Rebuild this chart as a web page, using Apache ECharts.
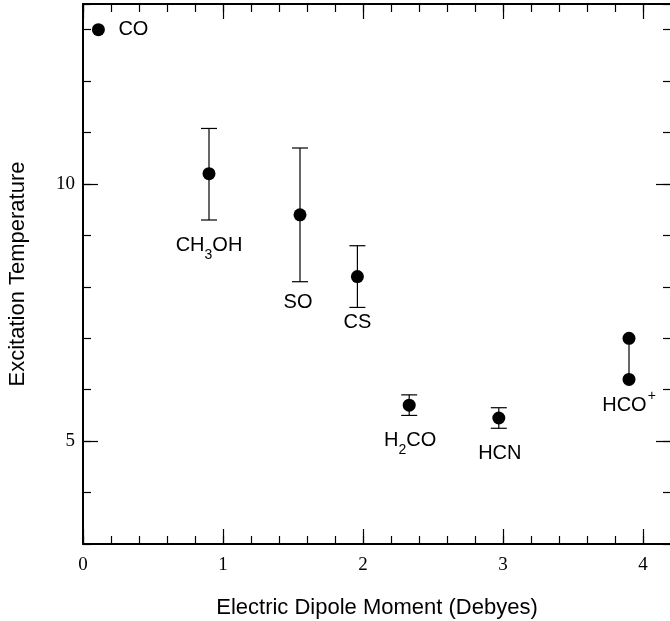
<!DOCTYPE html>
<html>
<head>
<meta charset="utf-8">
<script src="https://cdn.jsdelivr.net/npm/echarts@6/dist/echarts.min.js"></script>
<style>
  html, body { margin: 0; padding: 0; background: #fff; }
  #chart { width: 670px; height: 621px; }
</style>
</head>
<body>
<div id="chart"></div>
<script>
// Excitation temperature versus electric dipole moment for several molecules
const molecules = ['CO', 'CH3OH', 'SO', 'CS', 'H2CO', 'HCN', 'HCO+'];
const dipole    = [0.11, 0.90, 1.55, 1.96, 2.33, 2.97, 3.90];
const tex       = [13.0, 10.2, 9.4, 8.2, 5.7, 5.45, 6.2];
const texLow    = [null, 9.3, 8.1, 7.6, 5.5, 5.25, null];
const texHigh   = [null, 11.08, 10.7, 8.8, 5.9, 5.65, null];
// HCO+ has a second estimate joined to the first by a plain line
const texAlt    = [null, null, null, null, null, null, 7.0];

const xMajorTicks = [0, 1, 2, 3, 4];
const yMajorTicks = [5, 10];

// Rich-text versions of the molecule names
const richNames = {
  'CO': '{n|CO}',
  'CH3OH': '{n|CH}{s|3}{n|OH}',
  'SO': '{n|SO}',
  'CS': '{n|CS}',
  'H2CO': '{n|H}{s|2}{n|CO}',
  'HCN': '{n|HCN}',
  'HCO+': '{m|HCO}{p|+}'
};
// Label offsets from the marker centre (px)
const labelOffset = {
  'CO': [35, 0],
  'CH3OH': [0, 71.5],
  'SO': [-2, 88],
  'CS': [0, 46],
  'H2CO': [1, 35],
  'HCN': [1, 35],
  'HCO+': [0, 19.5]
};

const sans = '"Liberation Sans", Arial, Helvetica, sans-serif';
const serif = '"Liberation Serif", "Times New Roman", serif';
const X_MIN = 0, X_MAX = 4.2, Y_MIN = 3, Y_MAX = 13.5;
const INK = '#000';

// Every token in a line gets the same box height, so padding alone sets its height
const richStyles = {
  n: { fontFamily: sans, fontSize: 20, color: INK, lineHeight: 20, verticalAlign: 'top' },
  s: { fontFamily: sans, fontSize: 14, color: INK, lineHeight: 14, verticalAlign: 'top', padding: [13, 0, 0, 0] },
  m: { fontFamily: sans, fontSize: 20, color: INK, lineHeight: 20, verticalAlign: 'top', padding: [7, 0, 0, 0] },
  p: { fontFamily: sans, fontSize: 14, color: INK, lineHeight: 14, verticalAlign: 'top', padding: [0, 0, 13, 1] }
};

const pointData = molecules.map((name, i) => ({
  name: name,
  value: [dipole[i], tex[i]],
  label: {
    show: true,
    position: 'inside',
    align: 'center',
    verticalAlign: 'middle',
    offset: labelOffset[name],
    formatter: richNames[name],
    color: INK,
    rich: richStyles
  }
}));

const altData = [];
texAlt.forEach((v, i) => { if (v != null) altData.push([dipole[i], v]); });

const barData = [];
molecules.forEach((name, i) => {
  if (texLow[i] != null) barData.push([dipole[i], texLow[i], texHigh[i], 1]);
  if (texAlt[i] != null) barData.push([dipole[i], tex[i], texAlt[i], 0]);
});

const axisLineStyle = { color: INK, width: 2 };
const tickStyle = { color: INK, width: 1.2 };

function xAxisPair(position) {
  const bottom = position === 'bottom';
  return [
    { // minor ticks every 0.2
      type: 'value', position: position, min: X_MIN, max: X_MAX, interval: 0.2,
      axisLine: { show: true, onZero: false, lineStyle: axisLineStyle },
      axisTick: { show: true, inside: true, length: 8, lineStyle: tickStyle },
      axisLabel: { show: false }, splitLine: { show: false }
    },
    { // major ticks and labels
      type: 'value', position: position, min: X_MIN, max: X_MAX,
      axisLine: { show: false, onZero: false },
      axisTick: { show: true, inside: true, length: 15, customValues: xMajorTicks, lineStyle: tickStyle },
      axisLabel: {
        show: bottom, customValues: xMajorTicks, margin: 12,
        fontFamily: serif, fontSize: 19, color: INK
      },
      splitLine: { show: false },
      name: bottom ? 'Electric Dipole Moment (Debyes)' : '',
      nameLocation: 'middle', nameGap: 53,
      nameTextStyle: { fontFamily: sans, fontSize: 22, color: INK }
    }
  ];
}

function yAxisPair(position) {
  const left = position === 'left';
  return [
    { // minor ticks every 1
      type: 'value', position: position, min: Y_MIN, max: Y_MAX, interval: 1,
      axisLine: { show: true, onZero: false, lineStyle: axisLineStyle },
      axisTick: { show: true, inside: true, length: 8, lineStyle: tickStyle },
      axisLabel: { show: false }, splitLine: { show: false }
    },
    { // major ticks and labels
      type: 'value', position: position, min: Y_MIN, max: Y_MAX,
      axisLine: { show: false, onZero: false },
      axisTick: { show: true, inside: true, length: 15, customValues: yMajorTicks, lineStyle: tickStyle },
      axisLabel: {
        show: left, customValues: yMajorTicks, margin: 8,
        fontFamily: serif, fontSize: 19, color: INK
      },
      splitLine: { show: false },
      name: left ? 'Excitation Temperature' : '',
      nameLocation: 'middle', nameGap: 54, nameRotate: 90,
      nameTextStyle: { fontFamily: sans, fontSize: 22, color: INK }
    }
  ];
}

const chart = echarts.init(document.getElementById('chart'), null, { renderer: 'canvas' });

chart.setOption({
  animation: false,
  backgroundColor: '#fff',
  textStyle: { color: INK },
  grid: { left: 83, right: -1, top: 4, bottom: 77, containLabel: false, outerBoundsMode: 'none' },
  xAxis: [...xAxisPair('bottom'), ...xAxisPair('top')],
  yAxis: [...yAxisPair('left'), ...yAxisPair('right')],
  series: [
    {
      type: 'custom',
      xAxisIndex: 0, yAxisIndex: 0,
      data: barData,
      z: 1,
      renderItem: function (params, api) {
        const x = api.value(0);
        const lo = api.coord([x, api.value(1)]);
        const hi = api.coord([x, api.value(2)]);
        const capped = api.value(3) === 1;
        const style = { stroke: INK, lineWidth: 1.2, fill: null };
        const children = [
          { type: 'line', shape: { x1: lo[0], y1: lo[1], x2: hi[0], y2: hi[1] }, style: style }
        ];
        if (capped) {
          const w = 8;
          children.push({ type: 'line', shape: { x1: lo[0] - w, y1: lo[1], x2: lo[0] + w, y2: lo[1] }, style: style });
          children.push({ type: 'line', shape: { x1: hi[0] - w, y1: hi[1], x2: hi[0] + w, y2: hi[1] }, style: style });
        }
        return { type: 'group', children: children };
      }
    },
    {
      type: 'scatter',
      xAxisIndex: 0, yAxisIndex: 0,
      symbol: 'circle', symbolSize: 13,
      itemStyle: { color: INK, opacity: 1 },
      emphasis: { disabled: true },
      data: pointData,
      z: 3
    },
    {
      type: 'scatter',
      xAxisIndex: 0, yAxisIndex: 0,
      symbol: 'circle', symbolSize: 13,
      itemStyle: { color: INK, opacity: 1 },
      emphasis: { disabled: true },
      data: altData,
      z: 3
    }
  ]
});
</script>
</body>
</html>
